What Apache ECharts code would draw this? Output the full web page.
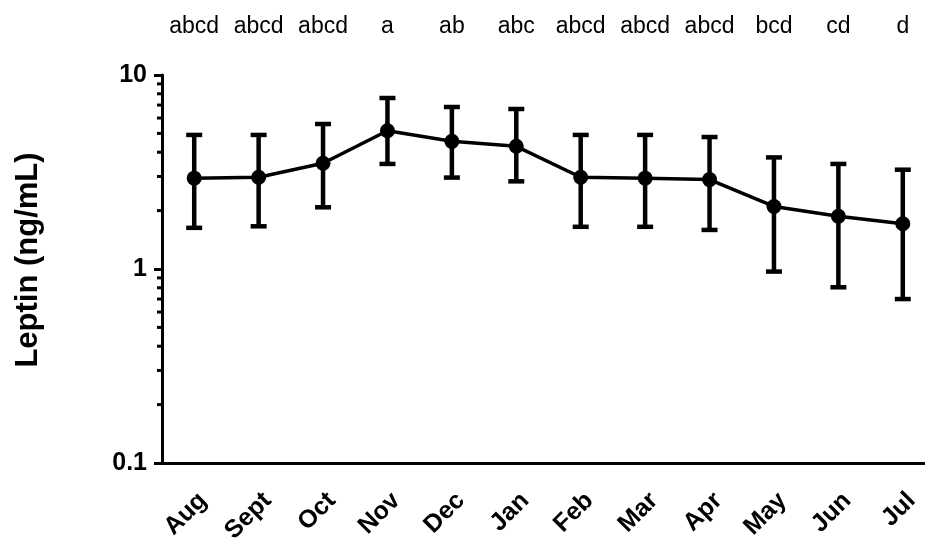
<!DOCTYPE html>
<html>
<head>
<meta charset="utf-8">
<script src="https://cdn.jsdelivr.net/npm/echarts@6/dist/echarts.min.js"></script>
<style>html,body{margin:0;padding:0;background:#fff}#c{width:925px;height:542px}</style>
</head>
<body>
<div id="c"></div>
<script>
var categories = ['Aug','Sept','Oct','Nov','Dec','Jan','Feb','Mar','Apr','May','Jun','Jul'];
var letters = ['abcd','abcd','abcd','a','ab','abc','abcd','abcd','abcd','bcd','cd','d'];
var meanValues = [2.94, 2.97, 3.51, 5.16, 4.55, 4.29, 2.97, 2.94, 2.89, 2.10, 1.87, 1.71];
var upperValues = [4.91, 4.91, 5.59, 7.61, 6.84, 6.68, 4.91, 4.91, 4.79, 3.76, 3.48, 3.25];
var lowerValues = [1.63, 1.66, 2.08, 3.48, 2.96, 2.83, 1.65, 1.65, 1.59, 0.97, 0.805, 0.70];
var minorTickValues = [0.2,0.3,0.4,0.5,0.6,0.7,0.8,0.9,2,3,4,5,6,7,8,9];

var FONT = '"Liberation Sans", Arial, sans-serif';
var chart = echarts.init(document.getElementById('c'), null, {renderer: 'canvas'});

var errData = categories.map(function (c, i) { return [i, lowerValues[i], upperValues[i]]; });
var minorData = minorTickValues.map(function (v) { return [0, v]; });

chart.setOption({
  animation: false,
  backgroundColor: '#fff',
  grid: {left: 162, right: -10, top: 75, bottom: 79, containLabel: false, outerBoundsMode: 'none'},
  xAxis: [{
    type: 'category',
    data: categories,
    boundaryGap: true,
    axisLine: {lineStyle: {color: '#000', width: 3}},
    axisTick: {alignWithLabel: true, length: 8, lineStyle: {color: '#000', width: 3}},
    axisLabel: {rotate: 45, margin: 25, verticalAlign: 'top', color: '#000', fontFamily: FONT, fontWeight: 'bold', fontSize: 25, interval: 0},
    splitLine: {show: false}
  }, {
    type: 'category',
    data: letters,
    position: 'top',
    offset: 29,
    boundaryGap: true,
    axisLine: {show: false},
    axisTick: {show: false},
    axisLabel: {margin: 8, color: '#000', fontFamily: FONT, fontSize: 23, interval: 0},
    splitLine: {show: false}
  }],
  yAxis: {
    type: 'log',
    logBase: 10,
    min: 0.1,
    max: 10,
    name: 'Leptin (ng/mL)',
    nameLocation: 'middle',
    nameGap: 118,
    nameRotate: 90,
    nameTextStyle: {color: '#000', fontFamily: FONT, fontWeight: 'bold', fontSize: 31, padding: [0, 0, 0, 18]},
    axisLine: {show: true, lineStyle: {color: '#000', width: 3}},
    axisTick: {show: true, length: 8, lineStyle: {color: '#000', width: 3}},
    axisLabel: {color: '#000', fontFamily: FONT, fontWeight: 'bold', fontSize: 25, margin: 15,
      formatter: function (v) { return v >= 1 ? String(Math.round(v)) : String(v); }},
    splitLine: {show: false}
  },
  series: [{
    type: 'custom',
    name: 'minorTicks',
    data: minorData,
    clip: false,
    silent: true,
    renderItem: function (params, api) {
      var p = api.coord([0, api.value(1)]);
      var x0 = params.coordSys.x;
      return {type: 'line', shape: {x1: x0 - 5, y1: p[1], x2: x0, y2: p[1]},
        style: {stroke: '#000', lineWidth: 3}};
    }
  }, {
    type: 'custom',
    name: 'errors',
    data: errData,
    clip: false,
    silent: true,
    z: 3,
    renderItem: function (params, api) {
      var lo = api.coord([api.value(0), api.value(1)]);
      var hi = api.coord([api.value(0), api.value(2)]);
      var hw = 8;
      return {type: 'group', children: [
        {type: 'line', shape: {x1: lo[0], y1: lo[1], x2: hi[0], y2: hi[1]}, style: {stroke: '#000', lineWidth: 4.5}},
        {type: 'line', shape: {x1: lo[0] - hw, y1: lo[1], x2: lo[0] + hw, y2: lo[1]}, style: {stroke: '#000', lineWidth: 4.5}},
        {type: 'line', shape: {x1: hi[0] - hw, y1: hi[1], x2: hi[0] + hw, y2: hi[1]}, style: {stroke: '#000', lineWidth: 4.5}}
      ]};
    }
  }, {
    type: 'line',
    name: 'Leptin',
    data: meanValues,
    symbol: 'circle',
    symbolSize: 15,
    z: 4,
    lineStyle: {color: '#000', width: 3.5},
    itemStyle: {color: '#000'}
  }]
});
</script>
</body>
</html>
